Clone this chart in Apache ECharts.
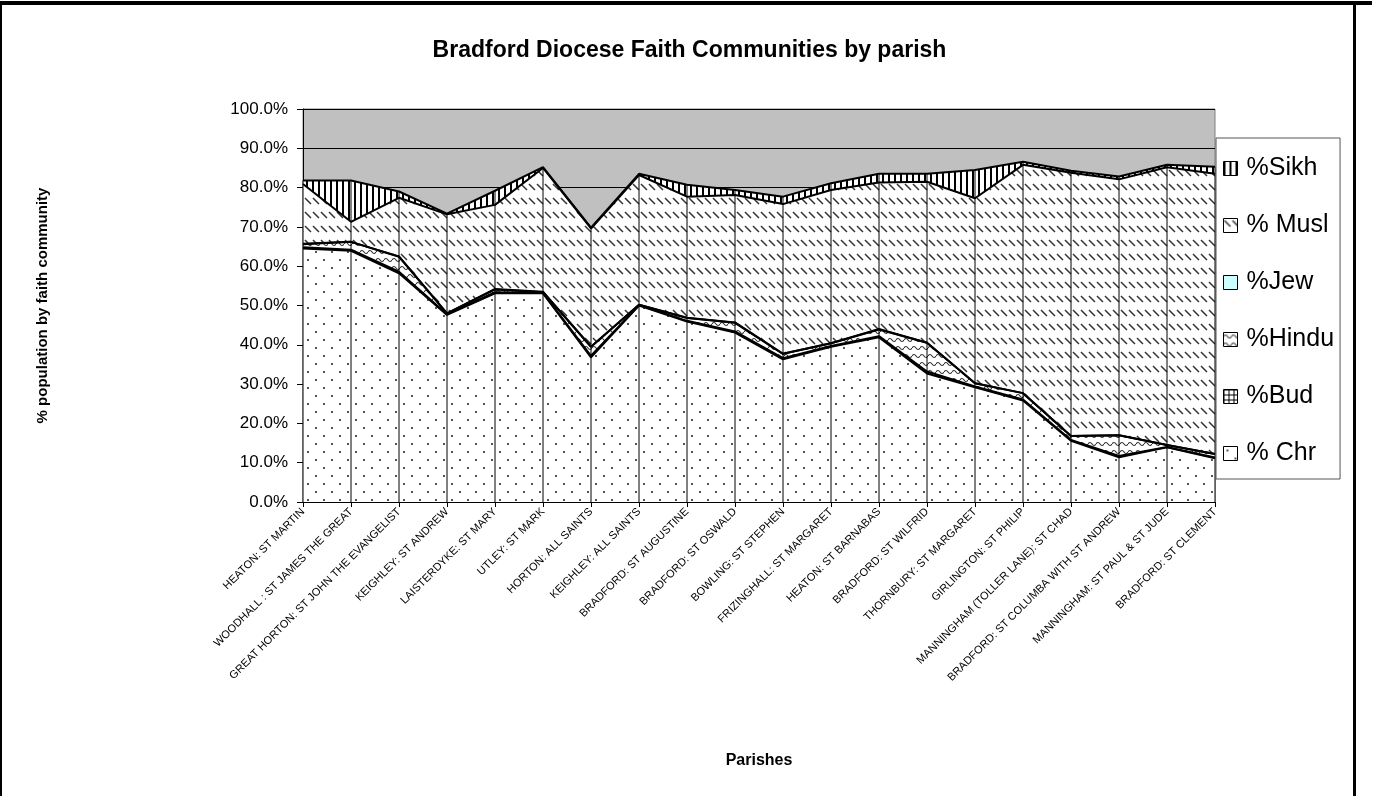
<!DOCTYPE html>
<html><head><meta charset="utf-8">
<script src="https://cdn.jsdelivr.net/npm/echarts@6/dist/echarts.min.js"></script>
<style>html,body{margin:0;padding:0;background:#fff}#c{width:1379px;height:796px}</style>
</head><body><div id="c"></div>
<script>
const categories = ['HEATON: ST MARTIN','WOODHALL : ST JAMES THE GREAT','GREAT HORTON: ST JOHN THE EVANGELIST','KEIGHLEY: ST ANDREW','LAISTERDYKE: ST MARY','UTLEY: ST MARK','HORTON: ALL SAINTS','KEIGHLEY: ALL SAINTS','BRADFORD: ST AUGUSTINE','BRADFORD: ST OSWALD','BOWLING: ST STEPHEN','FRIZINGHALL: ST MARGARET','HEATON: ST BARNABAS','BRADFORD: ST WILFRID','THORNBURY: ST MARGARET','GIRLINGTON: ST PHILIP','MANNINGHAM (TOLLER LANE): ST CHAD','BRADFORD: ST COLUMBA WITH ST ANDREW','MANNINGHAM: ST PAUL & ST JUDE','BRADFORD: ST CLEMENT'];
const chr   = [64.5, 63.9, 58.2, 47.6, 53.1, 53.1, 36.8, 50.0, 45.9, 43.1, 36.3, 39.5, 41.9, 32.7, 29.2, 25.8, 15.6, 11.4, 13.9, 11.1];
const bud   = [0.3, 0.3, 0.4, 0.2, 0.3, 0.1, 0.4, 0.1, 0.2, 0.3, 0.3, 0.2, 0.3, 0.5, 0.2, 0.3, 0.2, 0.3, 0.1, 0.2];
const hindu = [0.8, 2.0, 3.8, 0.2, 0.7, 0.2, 2.3, 0.1, 0.7, 2.2, 1.1, 0.7, 1.7, 7.3, 0.8, 1.6, 1.0, 5.3, 0.5, 0.9];
const jew   = [0.1, 0.0, 0.1, 0.0, 0.1, 0.1, 0.0, 0.0, 0.1, 0.1, 0.0, 0.0, 0.1, 0.0, 0.0, 0.0, 0.0, 0.0, 0.0, 0.0];
const musl  = [15.2, 5.1, 14.9, 25.2, 21.4, 31.5, 30.1, 33.0, 30.8, 32.4, 38.1, 39.0, 37.3, 41.0, 47.1, 58.1, 67.0, 65.1, 70.7, 71.3];
const sikh  = [0.9, 10.5, 1.6, 0.2, 3.6, 0.2, 0.2, 0.3, 3.0, 1.3, 1.9, 1.7, 2.2, 2.0, 7.2, 0.8, 0.5, 0.7, 0.6, 1.8];
const seriesNames = ['% Chr','%Bud','%Hindu','%Jew','% Musl','%Sikh'];
const legendOrder = ['%Sikh','% Musl','%Jew','%Hindu','%Bud','% Chr'];
const yTicks = [0,10,20,30,40,50,60,70,80,90,100];

function pat(w, h, draw) {
  const c = document.createElement('canvas');
  c.width = w; c.height = h;
  const ctx = c.getContext('2d');
  ctx.fillStyle = '#fff'; ctx.fillRect(0, 0, w, h);
  draw(ctx);
  return { image: c, repeat: 'repeat' };
}
const fills = {
  '% Chr': pat(16, 16, ctx => { ctx.fillStyle = '#555'; ctx.fillRect(3, 3, 2, 2); ctx.fillRect(11, 11, 2, 2); }),
  '%Bud': pat(5, 5, ctx => { ctx.fillStyle = '#000'; ctx.fillRect(0, 0, 5, 1); ctx.fillRect(0, 0, 1, 5); }),
  '%Hindu': pat(8, 8, ctx => { ctx.strokeStyle = '#333'; ctx.lineWidth = 1.2; ctx.beginPath(); ctx.moveTo(0, 4); ctx.quadraticCurveTo(2, 1, 4, 4); ctx.quadraticCurveTo(6, 7, 8, 4); ctx.stroke(); }),
  '%Jew': '#CCFFFF',
  '% Musl': pat(8, 14, ctx => { ctx.strokeStyle = '#333'; ctx.lineWidth = 1.5; ctx.beginPath(); ctx.moveTo(1, 2); ctx.lineTo(7, 8); ctx.stroke(); }),
  '%Sikh': pat(6, 6, ctx => { ctx.fillStyle = '#000'; ctx.fillRect(0, 0, 2, 6); })
};
const values = { '% Chr': chr, '%Bud': bud, '%Hindu': hindu, '%Jew': jew, '% Musl': musl, '%Sikh': sikh };
const totals = categories.map((c, i) => seriesNames.reduce((s, n) => s + values[n][i], 0));

const chart = echarts.init(document.getElementById('c'), null, { renderer: 'canvas' });
const FONT = "'Liberation Sans', Arial, sans-serif";
const series = seriesNames.map(n => ({
  name: n, type: 'line', stack: 'total', data: values[n], symbol: 'none',
  lineStyle: { color: '#000', width: 2 },
  itemStyle: { color: '#000' },
  areaStyle: { color: fills[n], opacity: 1 },
  emphasis: { disabled: true }, animation: false, z: 2
}));
series.push({
  type: 'custom', name: 'drop', z: 3, silent: true, animation: false,
  data: totals.map((t, i) => [i, t]),
  renderItem: (params, api) => {
    const top = api.coord([api.value(0), api.value(1)]);
    const bot = api.coord([api.value(0), 0]);
    return { type: 'line', shape: { x1: top[0], y1: top[1], x2: bot[0], y2: bot[1] }, style: { stroke: '#000', lineWidth: 1 } };
  }
});
chart.setOption({
  animation: false,
  backgroundColor: '#fff',
  title: { text: 'Bradford Diocese Faith Communities by parish', left: 'center', top: 34,
    textStyle: { fontFamily: FONT, fontWeight: 'bold', fontSize: 23, color: '#000' } },
  grid: { left: 303, right: 164, top: 109, bottom: 294, show: true, backgroundColor: '#C0C0C0', borderColor: '#808080', borderWidth: 1, containLabel: false },
  legend: {
    data: legendOrder.map(n => ({ name: n, itemStyle: { color: fills[n], borderColor: '#000', borderWidth: 1 } })),
    orient: 'vertical', left: 1216, top: 138, icon: 'rect', itemWidth: 14, itemHeight: 14, itemGap: 32,
    padding: [18, 6, 13, 7], backgroundColor: '#fff', borderColor: '#555', borderWidth: 1,
    textStyle: { fontFamily: FONT, fontSize: 25, color: '#000', padding: [0, 0, 0, 4] },
    selectedMode: false
  },
  xAxis: {
    type: 'category', data: categories, boundaryGap: false,
    name: 'Parishes', nameLocation: 'middle', nameGap: 251,
    nameTextStyle: { fontFamily: FONT, fontWeight: 'bold', fontSize: 16, color: '#000' },
    axisLine: { lineStyle: { color: '#000', width: 1 } },
    axisTick: { show: true, length: 5, lineStyle: { color: '#000' }, alignWithLabel: true },
    axisLabel: { rotate: 45, interval: 0, fontFamily: FONT, fontSize: 11, color: '#000', margin: 8 },
    splitLine: { show: false }
  },
  yAxis: {
    type: 'value', min: 0, max: 100, interval: 10,
    name: '% population by faith community', nameLocation: 'middle', nameGap: 253, nameRotate: 90,
    nameTextStyle: { fontFamily: FONT, fontWeight: 'bold', fontSize: 15, color: '#000' },
    axisLine: { show: true, lineStyle: { color: '#000', width: 1 } },
    axisTick: { show: true, length: 6, lineStyle: { color: '#000' } },
    axisLabel: { formatter: v => v.toFixed(1) + '%', fontFamily: FONT, fontSize: 17, color: '#000', margin: 15 },
    splitLine: { show: true, lineStyle: { color: '#000', width: 1 } }
  },
  graphic: [
    { type: 'rect', shape: { x: 0, y: 1, width: 1372, height: 4 }, style: { fill: '#000' }, silent: true },
    { type: 'rect', shape: { x: 1353, y: 1, width: 3, height: 795 }, style: { fill: '#000' }, silent: true },
    { type: 'rect', shape: { x: 0, y: 1, width: 2, height: 795 }, style: { fill: '#000' }, silent: true }
  ],
  series: series
});
</script>
</body></html>
